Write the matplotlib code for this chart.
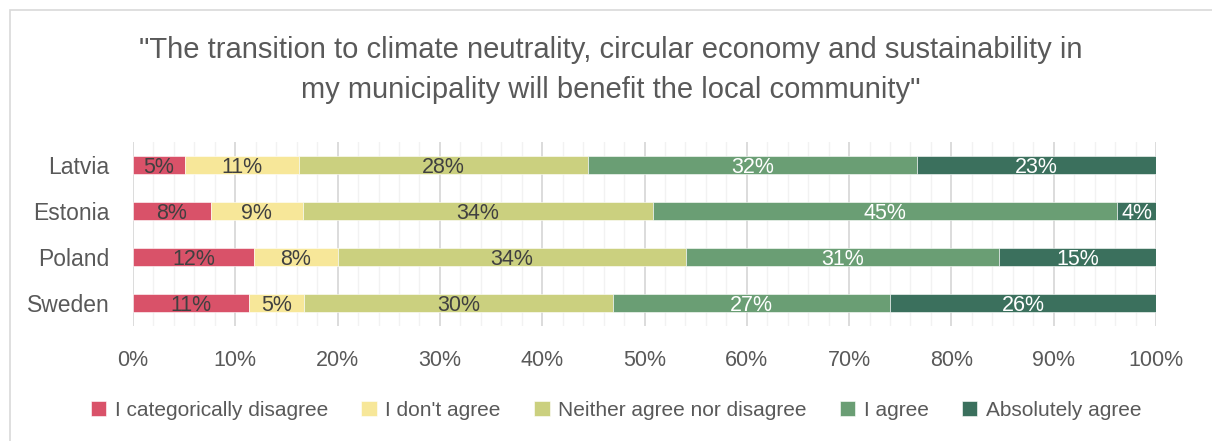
import numpy as np
import matplotlib
matplotlib.use('Agg')
import matplotlib.pyplot as plt
from matplotlib.patches import Rectangle
from matplotlib.ticker import MultipleLocator, PercentFormatter

plt.rcParams['font.family'] = ['Liberation Sans', 'DejaVu Sans']

countries = ['Latvia', 'Estonia', 'Poland', 'Sweden']
categories = ['I categorically disagree', "I don't agree", 'Neither agree nor disagree',
              'I agree', 'Absolutely agree']
# shares per country (percent), in category order
cat_disagree = [5.1, 7.6, 11.8, 11.3]
dont_agree = [11.1, 9.0, 8.2, 5.4]
neither = [28.3, 34.2, 34.1, 30.2]
agree = [32.1, 45.4, 30.6, 27.1]
absolutely = [23.4, 3.8, 15.3, 26.0]
series = [cat_disagree, dont_agree, neither, agree, absolutely]

colors = ['#d95269', '#f7e799', '#cbd07f', '#6a9e74', '#3b705d']
label_colors = ['#404040', '#404040', '#404040', 'white', 'white']

fig = plt.figure(figsize=(12.12, 4.41), dpi=100)
fig.patches.append(Rectangle((10/1212, -0.1), 1.2, 1.1 - 10/441, transform=fig.transFigure,
                             fill=False, edgecolor='#d9d9d9', linewidth=1.2))
ax = fig.add_axes([133/1212, 1 - 326/441, 1023/1212, 184/441])

y = np.arange(len(countries))
left = np.zeros(len(countries))
for vals, col, lcol, name in zip(series, colors, label_colors, categories):
    vals = np.array(vals)
    ax.barh(y, vals, left=left, height=0.39, color=col, edgecolor='white',
            linewidth=0.4, label=name, zorder=3)
    for yi, v, l in zip(y, vals, left):
        ax.text(l + v / 2, yi, f'{round(v):.0f}%', ha='center', va='center_baseline',
                fontsize=15.5, color=lcol, zorder=4)
    left += vals

ax.set_xlim(0, 100)
ax.set_ylim(3.5, -0.5)
ax.set_yticks(y)
ax.set_yticklabels(countries)
ax.xaxis.set_major_locator(MultipleLocator(10))
ax.xaxis.set_minor_locator(MultipleLocator(2))
ax.xaxis.set_major_formatter(PercentFormatter(decimals=0))
ax.grid(axis='x', which='major', color='#d9d9d9', linewidth=1.3, zorder=0)
ax.grid(axis='x', which='minor', color='#f2f2f2', linewidth=1.0, zorder=0)
ax.tick_params(axis='x', which='both', length=0, pad=17, labelsize=15.5, labelcolor='#595959')
ax.tick_params(axis='y', length=0, pad=17, labelsize=16.5, labelcolor='#595959')
for s in ax.spines.values():
    s.set_visible(False)

fig.text(611/1212, 1 - 36/441,
         '"The transition to climate neutrality, circular economy and sustainability in\n'
         'my municipality will benefit the local community"',
         ha='center', va='top', fontsize=21, color='#595959', linespacing=1.55)

fig.legend(loc='center', bbox_to_anchor=(616/1212, 1 - 410/441), ncol=5, frameon=False,
           fontsize=15, labelcolor='#595959', handlelength=0.75, handleheight=0.75,
           handletextpad=0.4, columnspacing=1.6)

fig.savefig('out.png', dpi=100)
